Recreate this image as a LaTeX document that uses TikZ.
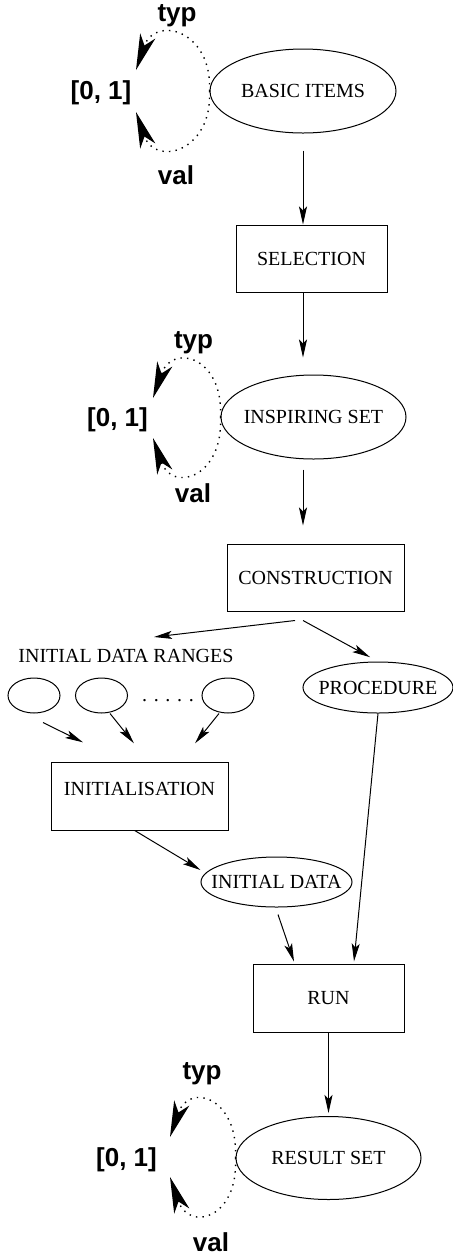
\documentclass[tikz,border=0pt]{standalone}
\usepackage{fontspec}
\setmainfont{Liberation Serif}
\newfontfamily\sansfont{Liberation Sans}
\usetikzlibrary{arrows.meta,shapes.geometric}

\begin{document}
\begin{tikzpicture}[x=0.5pt, y=-0.5pt, line width=0.5pt,
    every node/.style={font=\fontsize{10}{12}\selectfont},
    oval/.style={draw, ellipse, inner xsep=-12pt, inner ysep=0pt},
    box/.style={draw, rectangle, minimum height=33.5pt},
    bold/.style={font=\sansfont\bfseries\fontsize{13}{15}\selectfont},
    arr/.style={-{Stealth[length=9pt,width=4pt,inset=2pt]}},
    scorearc/.style={line width=0.7pt, dash pattern=on 0.7pt off 2.6pt,
      -{Stealth[length=18pt,width=8pt,inset=5pt]}}]
  \useasboundingbox (0,0) rectangle (453,1255);

  \node[oval, minimum width=93pt, minimum height=42pt] (bi) at (303,91) {BASIC ITEMS};
  \node[box, minimum width=75.5pt] (sel) at (311.5,258.5) {SELECTION};
  \node[oval, minimum width=92.5pt, minimum height=42pt] (ins) at (313.5,417) {INSPIRING SET};
  \node[box, minimum width=88.5pt] (con) at (315.5,577.5) {CONSTRUCTION};
  \node (rng) at (126,656) {INITIAL DATA RANGES};
  \node[oval, minimum width=75pt, minimum height=25.5pt] (proc) at (378,687.5) {PROCEDURE};
  \node[oval, minimum width=26pt, minimum height=17.5pt] (e1) at (34,695.5) {};
  \node[oval, minimum width=26pt, minimum height=17.5pt] (e2) at (101.5,695.5) {};
  \node[oval, minimum width=26pt, minimum height=17.5pt] (e3) at (228,695.5) {};
  \node (dots) at (168,701) {. . . . .};
  \node[box, minimum width=88.5pt, text height=13pt, text depth=14pt] (init) at (139.5,796.5) {INITIALISATION};
  \node[oval, minimum width=75.5pt, minimum height=25pt] (idata) at (276.5,882) {INITIAL DATA};
  \node[box, minimum width=75.5pt, minimum height=34pt] (run) at (328.5,998) {RUN};
  \node[oval, minimum width=92.5pt, minimum height=41.5pt] (res) at (328.5,1158) {RESULT SET};

  \node[bold] (typ1) at (177,16) {typ};
  \node[bold] (r1) at (101,92.5) {[0, 1]};
  \node[bold] (val1) at (176,175) {val};
  \draw[scorearc] (bi.west) .. controls +(3,-61) and +(19,-55) .. ([shift={(35,-22.5)}]r1.center);
  \draw[scorearc] (bi.west) .. controls +(3,61) and +(19,55) .. ([shift={(35,19.5)}]r1.center);

  \node[bold] (typ2) at (193.5,343) {typ};
  \node[bold] (r2) at (117.5,420) {[0, 1]};
  \node[bold] (val2) at (193,493) {val};
  \draw[scorearc] (ins.west) .. controls +(3,-61) and +(19,-55) .. ([shift={(35.5,-22)}]r2.center);
  \draw[scorearc] (ins.west) .. controls +(3,61) and +(19,55) .. ([shift={(35.5,18)}]r2.center);

  \node[bold] (typ3) at (202,1074) {typ};
  \node[bold] (r3) at (126.5,1160) {[0, 1]};
  \node[bold] (val3) at (211,1242) {val};
  \draw[scorearc] (res.west) .. controls +(3,-61) and +(19,-55) .. ([shift={(43.5,-23)}]r3.center);
  \draw[scorearc] (res.west) .. controls +(3,61) and +(19,55) .. ([shift={(43.5,17)}]r3.center);

  \draw[arr, shorten <=8.5pt] (bi.south) -- (sel.north -| bi.center);
  \draw[arr, shorten >=8.5pt] (sel.south -| bi.center) -- (ins.north -| bi.center);
  \draw[arr, shorten <=5pt, shorten >=9pt] (ins.south -| bi.center) -- (con.north -| bi.center);
  \draw[arr] ([shift={(-20.5,9)}]con.south) -- ([shift={(28,-19)}]rng.center);
  \draw[arr, shorten >=4.5pt] ([shift={(-12.5,9)}]con.south) -- (proc.north);
  \draw[arr] ([shift={(9,9)}]e1.south) -- ([shift={(-56.5,-20)}]init.north);
  \draw[arr] ([shift={(8.5,0)}]e2.south) -- ([shift={(-5.5,-19)}]init.north);
  \draw[arr] ([shift={(-9,0)}]e3.south) -- ([shift={(55.5,-19)}]init.north);
  \draw[arr] ([shift={(-4.5,0)}]init.south) -- ([shift={(0,-12)}]idata.west);
  \draw[arr] ([shift={(1.5,7)}]idata.south) -- ([shift={(-34.5,-2)}]run.north);
  \draw[arr] (proc.south) -- ([shift={(25.5,-2)}]run.north);
  \draw[arr] (run.south) -- ([shift={(0,-3)}]res.north);
\end{tikzpicture}
\end{document}
